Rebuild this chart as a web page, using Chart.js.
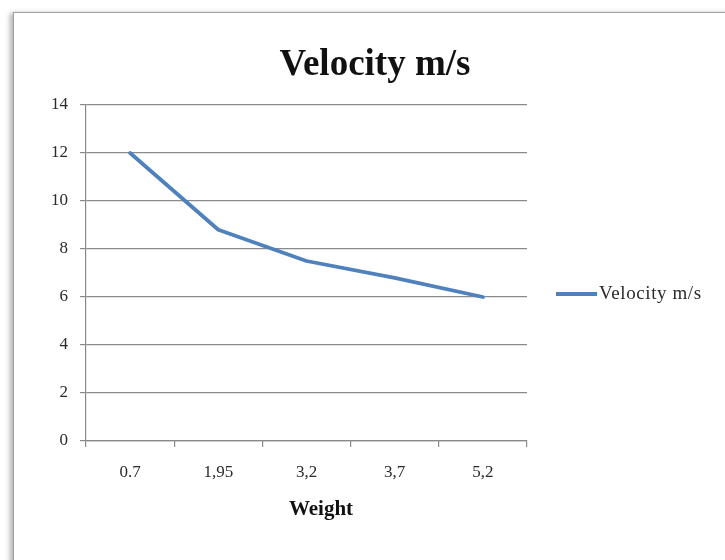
<!DOCTYPE html>
<html>
<head>
<meta charset="utf-8">
<title>Velocity m/s</title>
<script src="https://cdn.jsdelivr.net/npm/chart.js@4/dist/chart.umd.min.js"></script>
<style>
  html, body { margin: 0; padding: 0; background: #ffffff; overflow: hidden; }
  #wrap { position: relative; width: 725px; height: 560px; overflow: hidden; background: #ffffff; }
  #frame {
    position: absolute; left: 13px; top: 12px; width: 800px; height: 700px;
    border: 1px solid #a0a0a0; box-sizing: border-box;
    box-shadow: -3px 1px 5px rgba(0,0,0,0.3);
    background: #ffffff;
  }
  #c { position: absolute; left: 0; top: 0; }
</style>
</head>
<body>
<div id="wrap">
  <div id="frame"></div>
  <canvas id="c" width="725" height="560"></canvas>
</div>
<script>
// Weight categories (as printed on the axis) and measured velocity
const weights = ['0.7', '1,95', '3,2', '3,7', '5,2'];
const velocity = [12, 8.8, 7.5, 6.8, 6];
const yTicks = [0, 2, 4, 6, 8, 10, 12, 14];

const chartTitle = 'Velocity m/s';
const xTitle = 'Weight';
const seriesName = 'Velocity m/s';

const lineColor = '#4f81bd';
const gridColor = '#8a8a8a';
const textColor = '#2b2b2b';
const serif = '"Liberation Serif", "Times New Roman", serif';

// Chart title and x-axis caption
const titlePlugin = {
  id: 'titleText',
  afterDraw(chart) {
    const ctx = chart.ctx;
    ctx.save();
    ctx.fillStyle = '#111111';
    ctx.textAlign = 'center';
    ctx.textBaseline = 'alphabetic';
    ctx.font = 'bold 37px ' + serif;
    ctx.fillText(chartTitle, 375, 75);
    ctx.font = 'bold 21px ' + serif;
    ctx.fillText(xTitle, 321, 515);
    ctx.restore();
  }
};

// Legend entry to the right of the plot
const sideLegend = {
  id: 'sideLegend',
  afterDraw(chart) {
    const ctx = chart.ctx;
    const ds = chart.data.datasets[0];
    const y = 294;
    ctx.save();
    ctx.strokeStyle = ds.borderColor;
    ctx.lineWidth = ds.borderWidth;
    ctx.lineCap = 'butt';
    ctx.beginPath();
    ctx.moveTo(556, y);
    ctx.lineTo(597, y);
    ctx.stroke();
    ctx.font = '19px ' + serif;
    if ('letterSpacing' in ctx) ctx.letterSpacing = '0.6px';
    ctx.fillStyle = textColor;
    ctx.textAlign = 'left';
    ctx.textBaseline = 'middle';
    ctx.fillText(ds.label, 599, y);
    ctx.restore();
  }
};

new Chart(document.getElementById('c'), {
  type: 'line',
  data: {
    labels: weights,
    datasets: [{
      label: seriesName,
      data: velocity,
      borderColor: lineColor,
      backgroundColor: lineColor,
      borderWidth: 3.8,
      borderJoinStyle: 'round',
      borderCapStyle: 'round',
      pointRadius: 0,
      pointHoverRadius: 0,
      tension: 0,
      fill: false
    }]
  },
  options: {
    responsive: false,
    devicePixelRatio: 1,
    animation: false,
    events: [],
    layout: { padding: { left: 0, top: 105, right: 198, bottom: 0 } },
    plugins: {
      legend: { display: false },
      title: { display: false },
      tooltip: { enabled: false }
    },
    scales: {
      x: {
        offset: true,
        grid: {
          offset: true,
          drawOnChartArea: false,
          drawTicks: true,
          tickLength: 6,
          color: gridColor,
          lineWidth: 1.2
        },
        border: { display: true, color: gridColor, width: 1.2 },
        ticks: {
          padding: 15,
          color: textColor,
          font: { family: serif, size: 17 },
          maxRotation: 0,
          autoSkip: false
        },
        title: { display: false },
        afterFit(scale) { scale.height = 119; }
      },
      y: {
        min: yTicks[0],
        max: yTicks[yTicks.length - 1],
        afterBuildTicks(scale) { scale.ticks = yTicks.map(v => ({ value: v })); },
        grid: {
          color: gridColor,
          lineWidth: 1.2,
          drawTicks: true,
          tickLength: 6
        },
        border: { display: true, color: gridColor, width: 1.2 },
        ticks: {
          padding: 12,
          color: textColor,
          font: { family: serif, size: 17 }
        },
        afterFit(scale) { scale.width = 86; }
      }
    }
  },
  plugins: [titlePlugin, sideLegend]
});
</script>
</body>
</html>
